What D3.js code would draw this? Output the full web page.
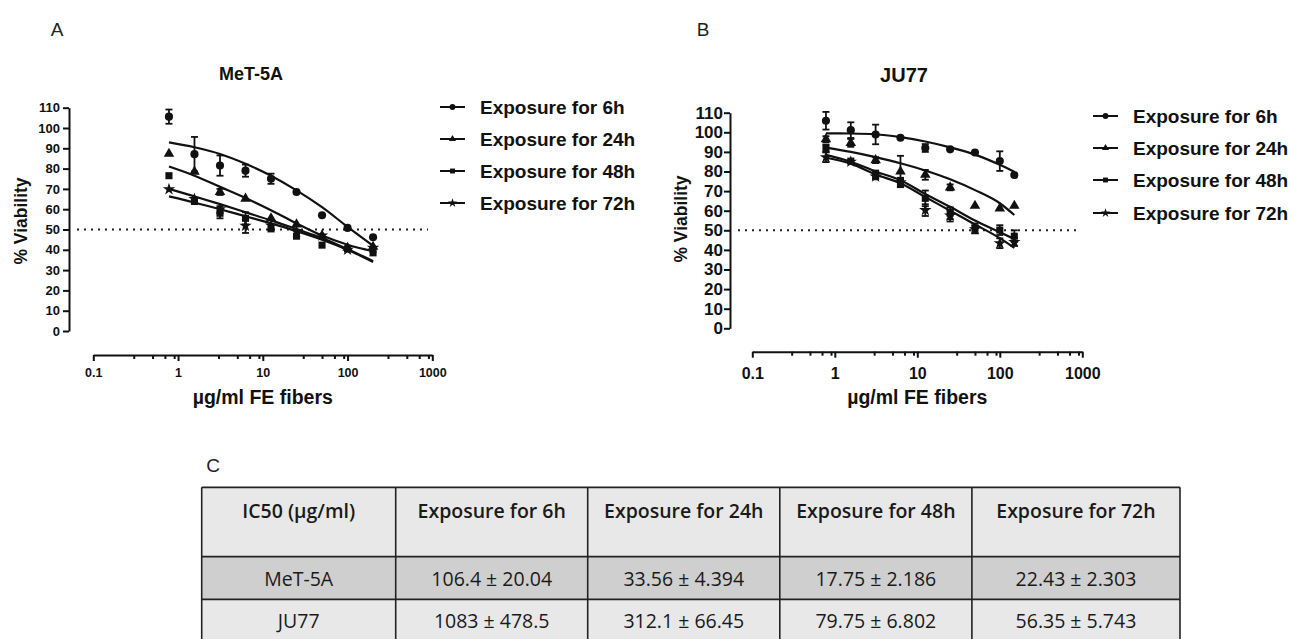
<!DOCTYPE html>
<html><head><meta charset="utf-8">
<script src="https://cdn.jsdelivr.net/npm/d3@7"></script>
<style>body{margin:0;background:#fff} svg{display:block}</style>
</head><body>
<svg id="c" width="1290" height="639"></svg>
<script>
// ---------------- DATA ----------------
const doseA = [0.78125, 1.5625, 3.125, 6.25, 12.5, 25, 50, 100, 200];
const doseB = [0.78125, 1.5625, 3.125, 6.25, 12.5, 25, 50, 100, 150];
const seriesNames = ["Exposure for 6h", "Exposure for 24h", "Exposure for 48h", "Exposure for 72h"];
const seriesMarkers = ["circle", "triangle", "square", "star"];

// Panel A (MeT-5A) — mean % viability
const meanA6  = [105.6, 87.1, 81.5, 79.0, 75.0, 68.5, 57.0, 50.8, 46.2];
const meanA24 = [87.3, 78.5, 68.5, 65.2, 55.5, 52.5, 47.0, 41.0, 41.5];
const meanA48 = [76.5, 64.0, 58.0, 55.5, 50.3, 46.7, 42.3, 40.5, 38.5];
const meanA72 = [69.8, 65.0, 60.0, 51.8, 52.0, 49.0, 47.0, 40.0, 41.0];
// Panel A — error (SEM)
const errA6  = [3.5, 8.5, 5.0, 3.0, 2.5, 1.2, 1.0, 0.8, 0.8];
const errA24 = [1.0, 1.0, 1.5, 1.0, 1.0, 1.0, 1.0, 1.0, 1.0];
const errA48 = [1.0, 1.5, 2.5, 3.0, 1.0, 1.0, 1.0, 1.0, 1.0];
const errA72 = [1.0, 1.0, 1.5, 3.5, 1.0, 1.0, 1.0, 1.0, 1.0];
// Panel A — fitted curve values read at each dose
const fitA6  = [92.9, 90.5, 87.2, 82.4, 76.5, 69.3, 61.0, 51.3, 42.0];
const fitA24 = [81.0, 76.5, 71.0, 65.5, 59.5, 53.0, 47.0, 42.5, 39.3];
const fitA48 = [66.3, 63.3, 60.0, 56.5, 53.0, 49.2, 45.0, 40.0, 34.0];
const fitA72 = [70.0, 66.3, 62.5, 58.5, 54.5, 50.2, 45.8, 40.3, 34.5];

// Panel B (JU77) — mean % viability
const meanB6  = [105.9, 101.1, 98.9, 97.2, 92.0, 91.3, 89.7, 85.3, 78.2];
const meanB24 = [96.5, 94.6, 85.8, 80.0, 78.3, 71.9, 62.5, 61.2, 62.5];
const meanB48 = [91.8, 85.3, 78.5, 74.8, 66.3, 58.7, 51.0, 50.1, 47.0];
const meanB72 = [87.3, 85.0, 77.5, 74.5, 60.3, 57.5, 50.5, 43.4, 44.0];
// Panel B — error (SEM)
const errB6  = [4.5, 4.0, 5.0, 1.0, 2.0, 1.0, 1.0, 5.0, 1.0];
const errB24 = [1.5, 2.0, 1.5, 8.0, 2.5, 1.5, 1.0, 1.0, 1.0];
const errB48 = [2.0, 1.0, 2.0, 2.0, 4.0, 3.0, 2.5, 2.5, 3.0];
const errB72 = [2.5, 1.0, 1.5, 2.0, 3.0, 3.0, 2.0, 2.5, 2.0];
// Panel B — fitted curve values read at each dose
const fitB6  = [99.5, 99.4, 99.0, 97.5, 95.3, 92.3, 88.6, 83.4, 79.8];
const fitB24 = [92.2, 90.0, 87.3, 84.2, 80.5, 76.0, 70.5, 63.8, 57.8];
const fitB48 = [88.5, 85.0, 80.0, 75.5, 68.5, 62.0, 55.0, 49.0, 45.5];
const fitB72 = [87.0, 84.0, 78.5, 74.0, 67.0, 60.0, 53.0, 46.0, 41.0];

const yTicks = [0, 10, 20, 30, 40, 50, 60, 70, 80, 90, 100, 110];
const xTicks = [0.1, 1, 10, 100, 1000];
const xTickLabels = ["0.1", "1", "10", "100", "1000"];
const minorDecades = [0.1, 1, 10, 100];
const minorMultipliers = [3, 5, 7, 9];
const refLine = 50;

const tableHeader = ["IC50 (\u00b5g/ml)", "Exposure for 6h", "Exposure for 24h", "Exposure for 48h", "Exposure for 72h"];
const tableRowMeT = ["MeT-5A", "106.4 \u00b1 20.04", "33.56 \u00b1 4.394", "17.75 \u00b1 2.186", "22.43 \u00b1 2.303"];
const tableRowJU  = ["JU77", "1083 \u00b1 478.5", "312.1 \u00b1 66.45", "79.75 \u00b1 6.802", "56.35 \u00b1 5.743"];

// ---------------- DRAW ----------------
const svg = d3.select("#c");
const FONT = "'Liberation Sans', Arial, Helvetica, sans-serif";
const symbolType = {circle: d3.symbolCircle, triangle: d3.symbolTriangle, square: d3.symbolSquare, star: d3.symbolStar};
const symbolSize = {circle: 52, triangle: 48, square: 50, star: 48};
const legendSymbolSize = {circle: 26, triangle: 22, square: 24, star: 26};

function panel(cfg) {
  const g = svg.append("g");
  const x = d3.scaleLog().domain([0.1, 1000]).range([cfg.x0, cfg.x1]);
  const y = d3.scaleLinear().domain([0, 110]).range([cfg.y0, cfg.y110]);

  // y axis
  const ya = g.append("g").attr("transform", `translate(${cfg.yAxisX},0)`)
    .call(d3.axisLeft(y).tickValues(yTicks).tickSize(6).tickSizeOuter(0).tickPadding(cfg.yPad));
  ya.attr("font-family", FONT).attr("font-size", cfg.yTickFont).attr("font-weight", "bold");
  ya.select(".domain").attr("stroke", "#111").attr("stroke-width", 2);
  ya.selectAll(".tick line").attr("stroke", "#111").attr("stroke-width", 2);
  ya.selectAll(".tick text").attr("fill", "#111");

  // x axis (major)
  const xa = g.append("g").attr("transform", `translate(0,${cfg.xAxisY})`)
    .call(d3.axisBottom(x).tickValues(xTicks).tickFormat((d, i) => xTickLabels[i]).tickSize(6).tickSizeOuter(0));
  xa.attr("font-family", FONT).attr("font-size", cfg.xTickFont).attr("font-weight", "bold");
  xa.select(".domain").attr("stroke", "#111").attr("stroke-width", 2);
  xa.selectAll(".tick line").attr("stroke", "#111").attr("stroke-width", 2);
  xa.selectAll(".tick text").attr("fill", "#111").attr("y", cfg.xLabelOff).attr("dy", "0.35em");
  // minor ticks
  const minor = [];
  minorDecades.forEach(d => minorMultipliers.forEach(m => minor.push(d * m)));
  const xm = g.append("g").attr("transform", `translate(0,${cfg.xAxisY})`)
    .call(d3.axisBottom(x).tickValues(minor).tickFormat("").tickSize(4).tickSizeOuter(0));
  xm.select(".domain").remove();
  xm.selectAll(".tick line").attr("stroke", "#111").attr("stroke-width", 2);

  // dotted 50% line
  g.append("line")
    .attr("x1", cfg.dotX0).attr("x2", cfg.dotX1)
    .attr("y1", y(refLine)).attr("y2", y(refLine))
    .attr("stroke", "#222").attr("stroke-width", 2).attr("stroke-dasharray", "2,5");

  // curves
  const line = d3.line().x(d => x(d.dose)).y(d => y(d.v)).curve(d3.curveMonotoneX);
  cfg.fits.forEach(f => {
    g.append("path").datum(cfg.doses.map((d, i) => ({dose: d, v: f[i]})))
      .attr("d", line).attr("fill", "none").attr("stroke", "#111").attr("stroke-width", 2.2);
  });

  // error bars + markers
  cfg.means.forEach((m, s) => {
    const pts = cfg.doses.map((d, i) => ({dose: d, v: m[i], e: cfg.errs[s][i]}));
    const eg = g.append("g").attr("stroke", "#111").attr("stroke-width", 1.8);
    eg.selectAll("line.v").data(pts).join("line").attr("class", "v")
      .attr("x1", d => x(d.dose)).attr("x2", d => x(d.dose))
      .attr("y1", d => y(d.v - d.e)).attr("y2", d => y(d.v + d.e));
    eg.selectAll("line.t").data(pts.filter(d => d.e > 1.2)).join("line").attr("class", "t")
      .attr("x1", d => x(d.dose) - 3.5).attr("x2", d => x(d.dose) + 3.5)
      .attr("y1", d => y(d.v + d.e)).attr("y2", d => y(d.v + d.e));
    eg.selectAll("line.b").data(pts.filter(d => d.e > 1.2)).join("line").attr("class", "b")
      .attr("x1", d => x(d.dose) - 3.5).attr("x2", d => x(d.dose) + 3.5)
      .attr("y1", d => y(d.v - d.e)).attr("y2", d => y(d.v - d.e));
    const mk = seriesMarkers[s];
    g.selectAll(null).data(pts).join("path")
      .attr("transform", d => `translate(${x(d.dose)},${y(d.v)})`)
      .attr("d", d3.symbol(symbolType[mk], symbolSize[mk]))
      .attr("fill", "#111");
  });

  // titles
  g.append("text").attr("x", cfg.titleX).attr("y", cfg.titleY).attr("text-anchor", "middle")
    .attr("font-family", FONT).attr("font-weight", "bold").attr("font-size", cfg.titleFont)
    .attr("dominant-baseline", "central").attr("fill", "#111").text(cfg.title);
  g.append("text").attr("transform", `translate(${cfg.yLabX},${cfg.yLabY}) rotate(-90)`)
    .attr("text-anchor", "middle").attr("dominant-baseline", "central")
    .attr("font-family", FONT).attr("font-weight", "bold").attr("font-size", 17.5).attr("fill", "#111")
    .text("% Viability");
  g.append("text").attr("x", (cfg.x0 + cfg.x1) / 2).attr("y", cfg.xLabY).attr("text-anchor", "middle")
    .attr("dominant-baseline", "central")
    .attr("font-family", FONT).attr("font-weight", "bold").attr("font-size", 19.5).attr("fill", "#111")
    .text("\u00b5g/ml FE fibers");

  // legend
  const lg = g.append("g");
  seriesNames.forEach((name, i) => {
    const ly = cfg.legY[i];
    lg.append("line").attr("x1", cfg.legX0).attr("x2", cfg.legX0 + 25).attr("y1", ly).attr("y2", ly)
      .attr("stroke", "#111").attr("stroke-width", 2);
    lg.append("path").attr("transform", `translate(${cfg.legX0 + 12.5},${ly})`)
      .attr("d", d3.symbol(symbolType[seriesMarkers[i]], legendSymbolSize[seriesMarkers[i]])).attr("fill", "#111");
    lg.append("text").attr("x", cfg.legX0 + 40).attr("y", ly).attr("dominant-baseline", "central")
      .attr("font-family", FONT).attr("font-weight", "bold").attr("font-size", 19).attr("fill", "#111")
      .text(name);
  });
}

panel({
  x0: 93.3, x1: 432.3, xAxisY: 355, yAxisX: 69, y0: 331, y110: 107.7,
  yTickFont: 13, xTickFont: 12.5, yPad: 3, xLabelOff: 17.7,
  dotX0: 77, dotX1: 428,
  doses: doseA, means: [meanA6, meanA24, meanA48, meanA72], errs: [errA6, errA24, errA48, errA72],
  fits: [fitA6, fitA24, fitA48, fitA72],
  title: "MeT-5A", titleX: 251, titleY: 74, titleFont: 18,
  yLabX: 21, yLabY: 221, xLabY: 397,
  legX0: 440, legY: [107, 139, 171, 203]
});
panel({
  x0: 752.3, x1: 1082.3, xAxisY: 351.7, yAxisX: 730, y0: 328.3, y110: 112.7,
  yTickFont: 17, xTickFont: 16, yPad: 1, xLabelOff: 21.3,
  dotX0: 738, dotX1: 1078,
  doses: doseB, means: [meanB6, meanB24, meanB48, meanB72], errs: [errB6, errB24, errB48, errB72],
  fits: [fitB6, fitB24, fitB48, fitB72],
  title: "JU77", titleX: 904, titleY: 75, titleFont: 20,
  yLabX: 681, yLabY: 219, xLabY: 397,
  legX0: 1093, legY: [116, 148, 180, 213]
});

// panel letters
[["A", 57, 29], ["B", 703, 29], ["C", 213, 465]].forEach(([t, lx, ly]) => {
  svg.append("text").attr("x", lx).attr("y", ly).attr("text-anchor", "middle").attr("dominant-baseline", "central")
    .attr("font-family", FONT).attr("font-size", 19).attr("fill", "#222").text(t);
});

// table
const colEdges = [201.7, 395.7, 587.7, 779.8, 971.9, 1180];
const rowEdges = [487.3, 556.7, 599.3, 642];
const rowFill = ["#e8e8e8", "#cfcfcf", "#e8e8e8"];
const rows = [tableHeader, tableRowMeT, tableRowJU];
const TFONT = "'Open Sans', 'Noto Sans', Arial, sans-serif";
const tg = svg.append("g");
rows.forEach((r, ri) => {
  tg.append("rect").attr("x", colEdges[0]).attr("y", rowEdges[ri])
    .attr("width", colEdges[5] - colEdges[0]).attr("height", rowEdges[ri + 1] - rowEdges[ri])
    .attr("fill", rowFill[ri]);
  const ty = ri === 0 ? 510 : (rowEdges[ri] + rowEdges[ri + 1]) / 2;
  tg.selectAll(null).data(r).join("text")
    .attr("x", (d, i) => (colEdges[i] + colEdges[i + 1]) / 2).attr("y", ty)
    .attr("text-anchor", "middle").attr("dominant-baseline", "central")
    .attr("font-family", TFONT).attr("font-size", 19.5)
    .attr("font-weight", ri === 0 ? 600 : 400).attr("fill", "#1a1a1a")
    .text(d => d);
});
colEdges.forEach(cx => tg.append("line").attr("x1", cx).attr("x2", cx).attr("y1", rowEdges[0]).attr("y2", rowEdges[3])
  .attr("stroke", "#222").attr("stroke-width", 1.6));
rowEdges.forEach(ry => tg.append("line").attr("x1", colEdges[0]).attr("x2", colEdges[5]).attr("y1", ry).attr("y2", ry)
  .attr("stroke", "#222").attr("stroke-width", 1.8));
</script>
</body></html>
